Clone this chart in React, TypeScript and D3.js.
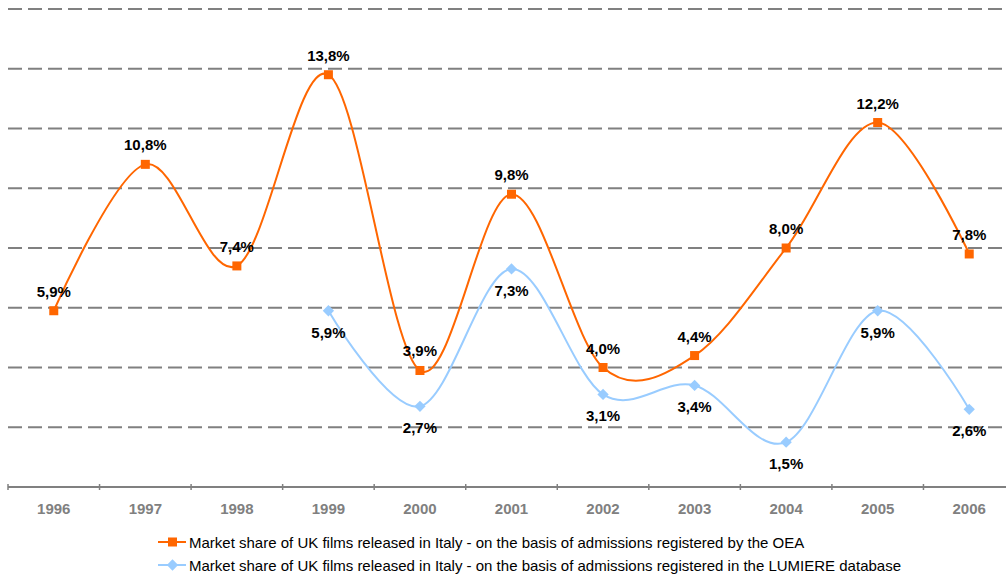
import React from 'react';
import * as d3 from 'd3';

const years = ['1996', '1997', '1998', '1999', '2000', '2001', '2002', '2003', '2004', '2005', '2006'];
const oeaShare = [5.9, 10.8, 7.4, 13.8, 3.9, 9.8, 4.0, 4.4, 8.0, 12.2, 7.8];
const lumiereYears = ['1999', '2000', '2001', '2002', '2003', '2004', '2005', '2006'];
const lumiereShare = [5.9, 2.7, 7.3, 3.1, 3.4, 1.5, 5.9, 2.6];
const gridTicks = [2, 4, 6, 8, 10, 12, 14, 16];
const legendLabels = [
  'Market share of UK films released in Italy - on the basis of admissions registered by the OEA',
  'Market share of UK films released in Italy - on the basis of admissions registered in the LUMIERE database',
];

const W = 1006, H = 575;
const ORANGE = '#ff6600', BLUE = '#99ccff', GREY = '#808080';
const FONT = '"Liberation Sans", Arial, sans-serif';

export default function App() {
  const x = d3.scaleBand().domain(years).range([8, 1015]);
  const cx = (yr: string) => (x(yr) as number) + x.bandwidth() / 2;
  const y = d3.scaleLinear().domain([0, 16]).range([487, 9]);
  const line = d3.line<[string, number]>().x(d => cx(d[0])).y(d => y(d[1])).curve(d3.curveCardinal.tension(0));
  const oea: [string, number][] = years.map((yr, i) => [yr, oeaShare[i]]);
  const lum: [string, number][] = lumiereYears.map((yr, i) => [yr, lumiereShare[i]]);
  const fmt = (v: number) => v.toFixed(1).replace('.', ',') + '%';
  const ticks = [...years.map(yr => x(yr) as number), 1015];

  return (
    <svg width={W} height={H} style={{ position: 'absolute', left: 0, top: 0, background: '#fff' }} fontFamily={FONT}>
      {gridTicks.map(t => (
        <line key={t} x1={8} x2={W} y1={y(t)} y2={y(t)} stroke={GREY} strokeWidth={2} strokeDasharray="14,6" />
      ))}
      <line x1={8} x2={W} y1={y(0)} y2={y(0)} stroke={GREY} strokeWidth={2} />
      {ticks.map((t, i) => (
        <line key={i} x1={t} x2={t} y1={y(0) - 3} y2={y(0) + 3} stroke={GREY} strokeWidth={1.5} />
      ))}
      {years.map(yr => (
        <text key={yr} x={cx(yr)} y={514} textAnchor="middle" fontSize={15} fontWeight="bold" fill={GREY}>{yr}</text>
      ))}

      <path d={line(lum) || ''} fill="none" stroke={BLUE} strokeWidth={2} />
      <path d={line(oea) || ''} fill="none" stroke={ORANGE} strokeWidth={2} />

      {lum.map(d => (
        <rect key={d[0]} x={cx(d[0]) - 4} y={y(d[1]) - 4} width={8} height={8} fill={BLUE}
          transform={`rotate(45 ${cx(d[0])} ${y(d[1])})`} />
      ))}
      {oea.map(d => (
        <rect key={d[0]} x={cx(d[0]) - 4.5} y={y(d[1]) - 4.5} width={9} height={9} fill={ORANGE} />
      ))}

      {lum.map(d => (
        <text key={d[0]} x={cx(d[0])} y={y(d[1]) + 27} textAnchor="middle" fontSize={15} fontWeight="bold" fill="#000">{fmt(d[1])}</text>
      ))}
      {oea.map(d => (
        <text key={d[0]} x={cx(d[0])} y={y(d[1]) - 14} textAnchor="middle" fontSize={15} fontWeight="bold" fill="#000">{fmt(d[1])}</text>
      ))}

      {legendLabels.map((lbl, i) => {
        const ly = 542 + i * 23;
        const col = i === 0 ? ORANGE : BLUE;
        return (
          <g key={i}>
            <line x1={158} x2={186} y1={ly} y2={ly} stroke={col} strokeWidth={2} />
            {i === 0
              ? <rect x={168} y={ly - 4.5} width={9} height={9} fill={col} />
              : <rect x={168.5} y={ly - 4} width={8} height={8} fill={col} transform={`rotate(45 172.5 ${ly})`} />}
            <text x={189} y={ly + 5.5} fontSize={15} fill="#000">{lbl}</text>
          </g>
        );
      })}
    </svg>
  );
}
